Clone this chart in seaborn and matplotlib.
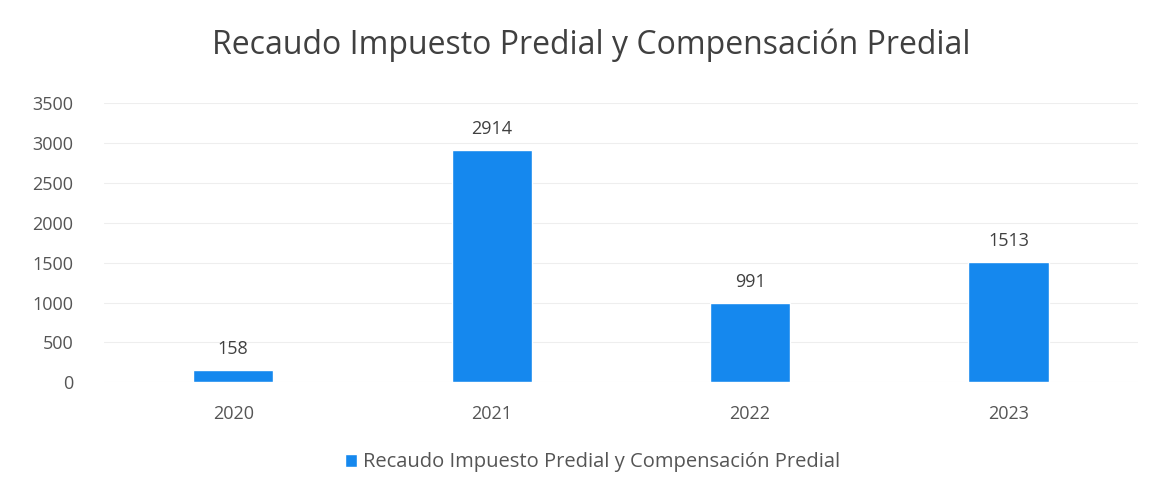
import pandas as pd
import matplotlib.pyplot as plt
import seaborn as sns

# Chart data
years = ['2020', '2021', '2022', '2023']
recaudo = [158, 2914, 991, 1513]
series_name = 'Recaudo Impuesto Predial y Compensación Predial'

df = pd.DataFrame({'Año': years, 'Valor': recaudo})

sns.set_theme(style='white')
plt.rcParams['font.family'] = ['Open Sans', 'DejaVu Sans']

fig, ax = plt.subplots(figsize=(11.55, 4.78), dpi=100)
fig.subplots_adjust(left=0.09, right=0.985, top=0.785, bottom=0.2)

sns.barplot(data=df, x='Año', y='Valor', color='#1588ee', width=0.31,
            saturation=1, ax=ax, label=series_name)

for i, v in enumerate(recaudo):
    ax.text(i, v + 150, str(v), ha='center', va='bottom', fontsize=13, color='#404040')

ax.set_ylim(0, 3500)
ax.set_yticks(range(0, 3501, 500))
ax.yaxis.grid(True, color='#eeeeee', linewidth=0.8)
ax.set_axisbelow(True)
ax.set_xlabel('')
ax.set_ylabel('')
ax.tick_params(axis='both', labelsize=13, colors='#555555', length=0)
ax.tick_params(axis='y', pad=22)
ax.tick_params(axis='x', pad=16)
for s in ax.spines.values():
    s.set_visible(False)

fig.suptitle(series_name, fontsize=23, color='#404040', x=0.512, y=0.94)

ax.legend(loc='center', bbox_to_anchor=(0.513, 0.033), bbox_transform=fig.transFigure,
          frameon=False, fontsize=14.5, handlelength=0.6, handleheight=0.6,
          handletextpad=0.3, labelcolor='#555555')

plt.savefig('out.png', dpi=100)
